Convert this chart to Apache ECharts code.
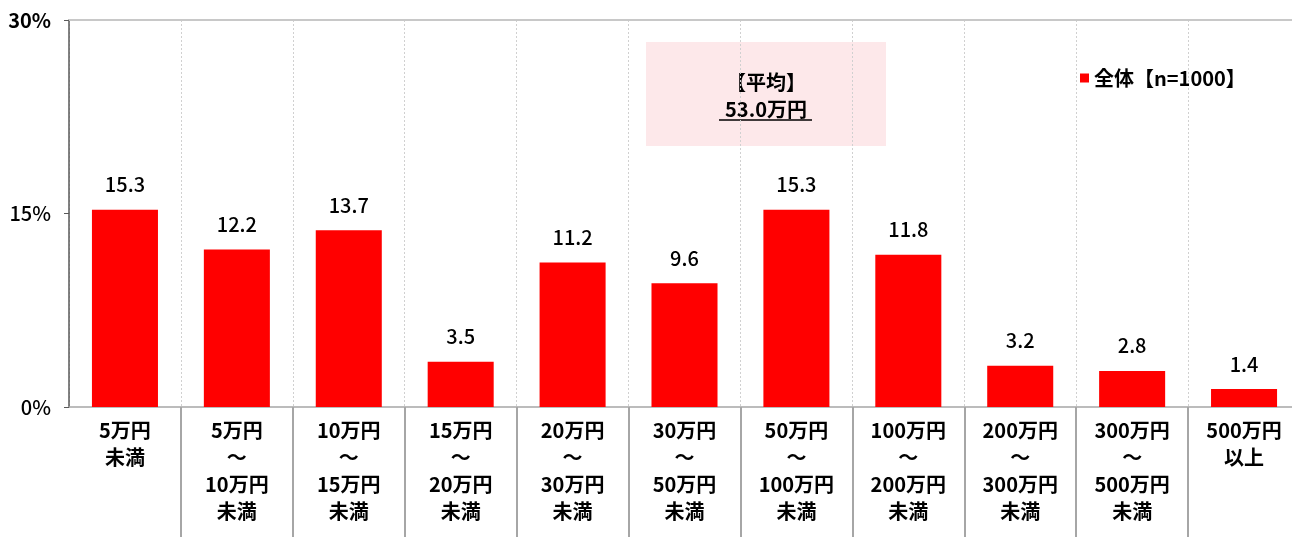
<!DOCTYPE html>
<html>
<head>
<meta charset="utf-8">
<script src="https://cdn.jsdelivr.net/npm/echarts@6/dist/echarts.min.js"></script>
<style>
  html, body { margin: 0; padding: 0; background: #fff; }
  #chart { width: 1292px; height: 537px; }
</style>
</head>
<body>
<div id="chart"></div>
<script>
const categories = [
  '5万円\n未満',
  '5万円\n～\n10万円\n未満',
  '10万円\n～\n15万円\n未満',
  '15万円\n～\n20万円\n未満',
  '20万円\n～\n30万円\n未満',
  '30万円\n～\n50万円\n未満',
  '50万円\n～\n100万円\n未満',
  '100万円\n～\n200万円\n未満',
  '200万円\n～\n300万円\n未満',
  '300万円\n～\n500万円\n未満',
  '500万円\n以上'
];
const values = [15.3, 12.2, 13.7, 3.5, 11.2, 9.6, 15.3, 11.8, 3.2, 2.8, 1.4];
const seriesName = '全体【n=1000】';
const averageLines = ['【平均】', '53.0万円'];

const font = '"Noto Sans CJK JP", "Noto Sans", sans-serif';
const chart = echarts.init(document.getElementById('chart'));

const option = {
  animation: false,
  textStyle: { fontFamily: font },
  // plot area runs a little past the right edge of the canvas
  grid: { left: 69, top: 20, width: 1231, height: 387, outerBoundsMode: 'none' },
  legend: {
    left: 1075,
    top: 63,
    itemWidth: 9,
    itemHeight: 9,
    itemGap: 6,
    icon: 'rect',
    data: [seriesName],
    textStyle: { fontSize: 20, fontWeight: 'bold', color: '#000', fontFamily: font }
  },
  xAxis: {
    type: 'category',
    data: categories,
    axisLine: { lineStyle: { color: '#a6a6a6', width: 1.5 } },
    axisTick: {
      show: true,
      length: 130,
      interval: (i) => i > 0,
      lineStyle: { color: '#a6a6a6', width: 2 }
    },
    axisLabel: {
      interval: 0,
      margin: 10,
      fontSize: 20,
      fontWeight: 'bold',
      color: '#000',
      lineHeight: 27,
      fontFamily: font
    },
    splitLine: {
      show: true,
      lineStyle: { color: '#d0d0d0', type: [2, 2], width: 1 }
    }
  },
  yAxis: {
    type: 'value',
    min: 0,
    max: 30,
    interval: 15,
    axisLine: { show: true, lineStyle: { color: '#595959', width: 1.5 } },
    axisTick: { show: true, length: 5, lineStyle: { color: '#595959' } },
    splitLine: { show: false },
    axisLabel: {
      formatter: (v) => v === 30 ? '{b|' + v + '%}' : v + '%',
      fontSize: 20,
      fontWeight: 500,
      color: '#000',
      margin: 18,
      fontFamily: font,
      rich: { b: { fontSize: 20, fontWeight: 'bold', color: '#000', fontFamily: font } }
    }
  },
  series: [{
    name: seriesName,
    type: 'bar',
    data: values,
    barWidth: '59%',
    itemStyle: { color: '#ff0000' },
    label: {
      show: true,
      position: 'top',
      distance: 15,
      fontSize: 20,
      fontWeight: 500,
      color: '#000',
      fontFamily: font,
      formatter: (p) => p.value.toFixed(1)
    },
    markLine: {
      silent: true,
      symbol: 'none',
      label: { show: false },
      lineStyle: { color: '#c8c8c8', type: 'solid', width: 2 },
      data: [{ yAxis: 30 }]
    }
  }],
  graphic: [{
    type: 'group',
    left: 646,
    top: 42,
    children: [
      {
        type: 'rect',
        shape: { x: 0, y: 0, width: 240, height: 104 },
        style: { fill: '#fde8ea' }
      },
      {
        type: 'text',
        x: 120,
        y: 40,
        style: {
          text: averageLines[0],
          fontSize: 20, fontWeight: 'bold', fill: '#000', fontFamily: font,
          align: 'center', verticalAlign: 'middle'
        }
      },
      {
        type: 'text',
        x: 120,
        y: 67,
        style: {
          text: averageLines[1],
          fontSize: 20, fontWeight: 'bold', fill: '#000', fontFamily: font,
          align: 'center', verticalAlign: 'middle'
        }
      },
      {
        type: 'line',
        shape: { x1: 73, y1: 78, x2: 166, y2: 78 },
        style: { stroke: '#000', lineWidth: 1.5 }
      }
    ]
  }]
};

chart.setOption(option);
</script>
</body>
</html>
